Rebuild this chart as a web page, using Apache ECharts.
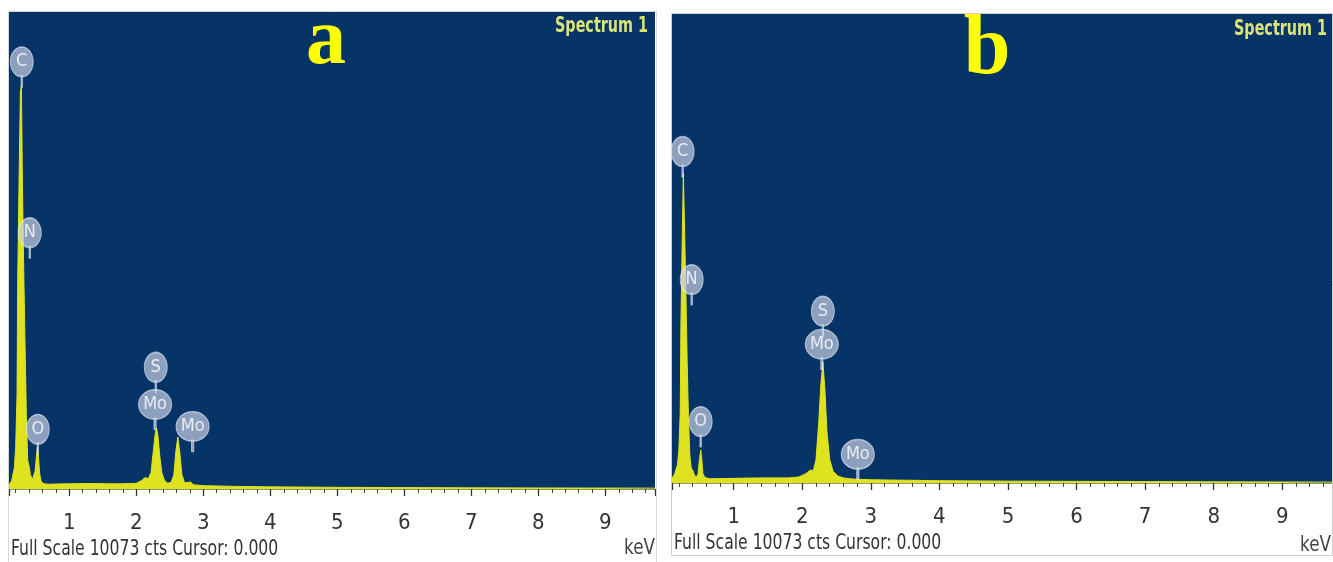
<!DOCTYPE html>
<html>
<head>
<meta charset="utf-8">
<title>EDS spectra</title>
<script src="https://cdn.jsdelivr.net/npm/echarts@6/dist/echarts.min.js"></script>
<style>
    html, body { margin: 0; padding: 0; background: #fff; }
    #chart { width: 1333px; height: 562px; }
</style>
</head>
<body>
<div id="chart"></div>
<script>
// spectrum a (keV / cts)
var energyA = [0.10, 0.14, 0.18, 0.20, 0.22, 0.23, 0.25, 0.27, 0.285, 0.30, 0.32, 0.34, 0.36, 0.38, 0.39, 0.40, 0.42,
    0.45, 0.47, 0.49, 0.51, 0.525, 0.54, 0.56, 0.58, 0.62, 0.70, 0.80, 1.0, 1.2, 1.4, 1.6, 1.8, 2.0, 2.08, 2.13, 2.18,
    2.22, 2.25, 2.28, 2.30, 2.32, 2.35, 2.38, 2.42, 2.47, 2.52, 2.56, 2.59, 2.62, 2.65, 2.68, 2.72, 2.78, 2.81, 2.85,
    3.0, 3.5, 4.0, 5.0, 6.0, 7.0, 8.0, 9.0, 9.74];
var countsA = [80, 180, 450, 900, 2000, 4400, 6500, 8400, 8500, 6500, 4600, 3000, 1500, 600, 560, 480, 300,
    200, 230, 380, 700, 880, 650, 300, 160, 110, 100, 105, 110, 115, 115, 110, 110, 120, 180, 240, 220,
    350, 750, 1150, 1290, 1150, 700, 350, 180, 120, 140, 300, 800, 1100, 750, 300, 130, 140, 150, 90,
    70, 55, 45, 35, 30, 25, 22, 20, 18];

// spectrum b (keV / cts)
var energyB = [0.10, 0.14, 0.18, 0.20, 0.22, 0.23, 0.25, 0.265, 0.28, 0.30, 0.32, 0.34, 0.36, 0.38, 0.39, 0.41, 0.43,
    0.46, 0.48, 0.50, 0.52, 0.535, 0.55, 0.58, 0.65, 0.80, 1.0, 1.2, 1.4, 1.6, 1.8, 1.95, 2.05, 2.12, 2.16, 2.20,
    2.24, 2.27, 2.30, 2.33, 2.36, 2.40, 2.45, 2.52, 2.6, 2.7, 2.8, 3.0, 3.5, 4.0, 5.0, 6.0, 7.0, 8.0, 9.0, 9.74];
var countsB = [100, 200, 400, 700, 1500, 3400, 5300, 6650, 5700, 4300, 2700, 1400, 600, 320, 340, 250, 160,
    130, 200, 500, 710, 500, 200, 120, 90, 95, 100, 105, 110, 110, 110, 130, 200, 280, 260, 500,
    1300, 2100, 2600, 2000, 1100, 500, 250, 150, 110, 90, 80, 70, 60, 50, 40, 35, 30, 25, 22, 20];

// element labels (tip of the pin)
var peakNamesA = ['C', 'N', 'O', 'S', 'Mo', 'Mo'];
var peakEnergyA = [0.29, 0.41, 0.53, 2.29, 2.28, 2.84];
var peakCountsA = [8490, 4880, 730, 2040, 1255, 790];

var peakNamesB = ['C', 'N', 'O', 'S', 'Mo', 'Mo'];
var peakEnergyB = [0.255, 0.387, 0.518, 2.30, 2.285, 2.81];
var peakCountsB = [6580, 3830, 780, 3150, 2440, 75];

var fullScale = 10073;
var panelLetters = ['a', 'b'];

var bg = '#073466';
var yellow = '#dfe21f';
var narrow = '"Liberation Sans Narrow", "DejaVu Sans Condensed", "Arial Narrow", sans-serif';
var pinPath = 'path://M11 0A11 14.5 0 1 1 11 29A11 14.5 0 1 1 11 0ZM10.3 28L11.7 28L11.7 39L10.3 39Z';

function pairs(xs, ys) {
    var out = [];
    for (var i = 0; i < xs.length; i++) out.push([xs[i], ys[i]]);
    return out;
}

function pins(names, xs, ys) {
    var out = [];
    for (var i = 0; i < names.length; i++) {
        out.push({
            name: names[i],
            value: [xs[i], ys[i]],
            symbolSize: names[i].length > 1 ? [33, 40] : [23, 40]
        });
    }
    return out;
}

function xAxisCfg(idx) {
    return {
        type: 'value', gridIndex: idx, min: 0.1, max: 9.74, splitNumber: 10,
        axisLine: { show: true, onZero: false, lineStyle: { color: '#8c9c78', width: 1 } },
        axisTick: { show: true, length: 7, lineStyle: { color: '#333', width: 1.3 } },
        minorTick: { show: true, splitNumber: 5, length: 4, lineStyle: { color: '#444', width: 1 } },
        splitLine: { show: false },
        axisLabel: {
            showMinLabel: false, showMaxLabel: false, margin: 23,
            color: '#333', fontSize: 22, fontFamily: narrow
        }
    };
}

function yAxisCfg(idx) {
    return { type: 'value', gridIndex: idx, min: 0, max: fullScale, show: false, splitLine: { show: false } };
}

function spectrumSeries(idx, data) {
    return {
        type: 'line', xAxisIndex: idx, yAxisIndex: idx, data: data,
        showSymbol: false, silent: true, z: 2,
        lineStyle: { color: yellow, width: 1 },
        areaStyle: { color: yellow, opacity: 1 }
    };
}

function pinSeries(idx, data) {
    return {
        type: 'scatter', xAxisIndex: idx, yAxisIndex: idx, data: data, z: 5,
        symbol: pinPath, symbolKeepAspect: false, symbolOffset: [0, '-50%'],
        itemStyle: { color: 'rgba(198,208,228,0.88)', borderColor: 'rgba(240,244,252,0.75)', borderWidth: 1.2 },
        label: {
            show: true, formatter: '{b}', position: ['50%', '37%'],
            align: 'center', verticalAlign: 'middle',
            color: '#fff', fontSize: 18, fontFamily: narrow
        }
    };
}

function txt(x, y, s, font, color, align, sx) {
    return {
        type: 'text', x: x, y: y, z: 20, scaleX: sx || 1,
        style: { text: s, font: font, fill: color, align: align || 'left', verticalAlign: 'middle' }
    };
}

var myChart = echarts.init(document.getElementById('chart'));
var option = {
    backgroundColor: '#fff',
    animation: false,
    grid: [
        { left: 9, top: 12, width: 646, height: 477, show: true, backgroundColor: bg, borderWidth: 0 },
        { left: 672, top: 14, width: 661, height: 469, show: true, backgroundColor: bg, borderWidth: 0 }
    ],
    xAxis: [xAxisCfg(0), xAxisCfg(1)],
    yAxis: [yAxisCfg(0), yAxisCfg(1)],
    series: [
        spectrumSeries(0, pairs(energyA, countsA)),
        spectrumSeries(1, pairs(energyB, countsB)),
        pinSeries(0, pins(peakNamesA, peakEnergyA, peakCountsA)),
        pinSeries(1, pins(peakNamesB, peakEnergyB, peakCountsB))
    ],
    graphic: [
        { type: 'rect', shape: { x: 8.5, y: 11.5, width: 648, height: 560 }, style: { fill: 'none', stroke: '#d6d6d6' }, z: 1 },
        { type: 'rect', shape: { x: 671.5, y: 13.5, width: 661, height: 542 }, style: { fill: 'none', stroke: '#cfcfcf' }, z: 1 },
        txt(326, 42, panelLetters[0], 'bold 80px "Liberation Serif", serif', '#ffff00', 'center'),
        txt(987, 51, panelLetters[1], 'bold 84px "Liberation Serif", serif', '#ffff00', 'center'),
        txt(648, 27, 'Spectrum 1', 'bold 21px ' + narrow, '#dbe478', 'right', 0.76),
        txt(1327, 30, 'Spectrum 1', 'bold 21px ' + narrow, '#dbe478', 'right', 0.76),
        txt(11, 549, 'Full Scale ' + fullScale + ' cts Cursor: 0.000', '22px ' + narrow, '#333', 'left', 0.79),
        txt(674, 543, 'Full Scale ' + fullScale + ' cts Cursor: 0.000', '22px ' + narrow, '#333', 'left', 0.79),
        txt(655, 548, 'keV', '22px ' + narrow, '#444', 'right', 0.85),
        txt(1331, 545, 'keV', '22px ' + narrow, '#444', 'right', 0.85)
    ]
};
myChart.setOption(option);
</script>
</body>
</html>
